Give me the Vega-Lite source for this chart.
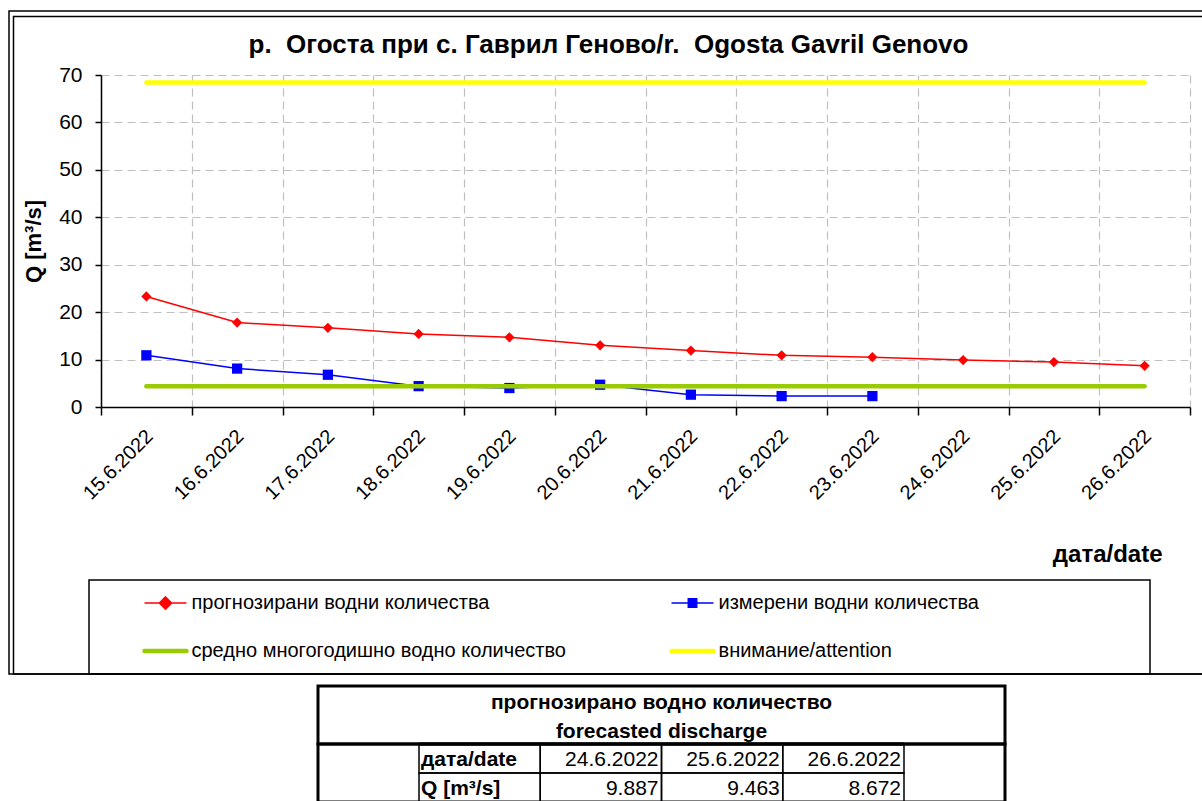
{
  "$schema": "https://vega.github.io/schema/vega-lite/v6.json",
  "padding": {"left": 8, "top": 10, "right": 0, "bottom": 0},
  "background": "white",
  "config": {
    "font": "Liberation Sans",
    "view": {"stroke": null},
    "axis": {"labelFont": "Liberation Sans", "titleFont": "Liberation Sans", "labelColor": "black", "titleColor": "black", "domainColor": "black", "tickColor": "black", "domainWidth": 1.5, "tickWidth": 1.5, "gridColor": "#c0c0c0", "gridDash": [8, 5], "gridWidth": 1.2},
    "text": {"font": "Liberation Sans", "color": "black"}
  },
  "datasets": {
    "main": [
      {"date": "15.6.2022", "s": "прогнозирани водни количества", "q": 23.3},
      {"date": "16.6.2022", "s": "прогнозирани водни количества", "q": 17.8},
      {"date": "17.6.2022", "s": "прогнозирани водни количества", "q": 16.7},
      {"date": "18.6.2022", "s": "прогнозирани водни количества", "q": 15.4},
      {"date": "19.6.2022", "s": "прогнозирани водни количества", "q": 14.7},
      {"date": "20.6.2022", "s": "прогнозирани водни количества", "q": 13.0},
      {"date": "21.6.2022", "s": "прогнозирани водни количества", "q": 11.9},
      {"date": "22.6.2022", "s": "прогнозирани водни количества", "q": 10.9},
      {"date": "23.6.2022", "s": "прогнозирани водни количества", "q": 10.5},
      {"date": "24.6.2022", "s": "прогнозирани водни количества", "q": 9.887},
      {"date": "25.6.2022", "s": "прогнозирани водни количества", "q": 9.463},
      {"date": "26.6.2022", "s": "прогнозирани водни количества", "q": 8.672},
      {"date": "15.6.2022", "s": "измерени водни количества", "q": 10.9},
      {"date": "16.6.2022", "s": "измерени водни количества", "q": 8.1},
      {"date": "17.6.2022", "s": "измерени водни количества", "q": 6.8},
      {"date": "18.6.2022", "s": "измерени водни количества", "q": 4.4},
      {"date": "19.6.2022", "s": "измерени водни количества", "q": 4.0},
      {"date": "20.6.2022", "s": "измерени водни количества", "q": 4.7},
      {"date": "21.6.2022", "s": "измерени водни количества", "q": 2.6},
      {"date": "22.6.2022", "s": "измерени водни количества", "q": 2.3},
      {"date": "23.6.2022", "s": "измерени водни количества", "q": 2.3},
      {"date": "15.6.2022", "s": "средно многогодишно водно количество", "q": 4.4},
      {"date": "16.6.2022", "s": "средно многогодишно водно количество", "q": 4.4},
      {"date": "17.6.2022", "s": "средно многогодишно водно количество", "q": 4.4},
      {"date": "18.6.2022", "s": "средно многогодишно водно количество", "q": 4.4},
      {"date": "19.6.2022", "s": "средно многогодишно водно количество", "q": 4.4},
      {"date": "20.6.2022", "s": "средно многогодишно водно количество", "q": 4.4},
      {"date": "21.6.2022", "s": "средно многогодишно водно количество", "q": 4.4},
      {"date": "22.6.2022", "s": "средно многогодишно водно количество", "q": 4.4},
      {"date": "23.6.2022", "s": "средно многогодишно водно количество", "q": 4.4},
      {"date": "24.6.2022", "s": "средно многогодишно водно количество", "q": 4.4},
      {"date": "25.6.2022", "s": "средно многогодишно водно количество", "q": 4.4},
      {"date": "26.6.2022", "s": "средно многогодишно водно количество", "q": 4.4},
      {"date": "15.6.2022", "s": "внимание/attention", "q": 68.4},
      {"date": "16.6.2022", "s": "внимание/attention", "q": 68.4},
      {"date": "17.6.2022", "s": "внимание/attention", "q": 68.4},
      {"date": "18.6.2022", "s": "внимание/attention", "q": 68.4},
      {"date": "19.6.2022", "s": "внимание/attention", "q": 68.4},
      {"date": "20.6.2022", "s": "внимание/attention", "q": 68.4},
      {"date": "21.6.2022", "s": "внимание/attention", "q": 68.4},
      {"date": "22.6.2022", "s": "внимание/attention", "q": 68.4},
      {"date": "23.6.2022", "s": "внимание/attention", "q": 68.4},
      {"date": "24.6.2022", "s": "внимание/attention", "q": 68.4},
      {"date": "25.6.2022", "s": "внимание/attention", "q": 68.4},
      {"date": "26.6.2022", "s": "внимание/attention", "q": 68.4}
    ],
    "legend": [
      {"s": "прогнозирани водни количества", "col": 0, "row": 0},
      {"s": "измерени водни количества", "col": 1, "row": 0},
      {"s": "средно многогодишно водно количество", "col": 0, "row": 1},
      {"s": "внимание/attention", "col": 1, "row": 1}
    ],
    "table": [
      {"row": "date", "col": "label", "t": "дата/date"},
      {"row": "date", "col": "d1", "t": "24.6.2022"},
      {"row": "date", "col": "d2", "t": "25.6.2022"},
      {"row": "date", "col": "d3", "t": "26.6.2022"},
      {"row": "q", "col": "label", "t": "Q [m³/s]"},
      {"row": "q", "col": "d1", "t": "9.887"},
      {"row": "q", "col": "d2", "t": "9.463"},
      {"row": "q", "col": "d3", "t": "8.672"}
    ],
    "tabletitle": [
      {"n": 1, "line": "прогнозирано водно количество"},
      {"n": 2, "line": "forecasted discharge"}
    ]
  },
  "vconcat": [
    {
      "hconcat": [
        {
          "width": 12,
          "height": 1,
          "data": {"values": [{}]},
          "layer": [
            {
              "mark": {"type": "rect", "filled": false, "stroke": "black", "strokeWidth": 1.5},
              "encoding": {
                "x": {"datum": 0, "type": "quantitative", "scale": {"domain": [0, 1], "range": [-80, 1131]}, "axis": null},
                "x2": {"datum": 1},
                "y": {"datum": 0, "type": "quantitative", "scale": {"domain": [0, 1], "range": [599, -64]}, "axis": null},
                "y2": {"datum": 1}
              }
            },
            {
              "mark": {"type": "rect", "filled": false, "stroke": "black", "strokeWidth": 1.5},
              "encoding": {
                "x": {"datum": 0, "type": "quantitative", "scale": {"domain": [0, 1], "range": [-75.5, 1126]}, "axis": null},
                "x2": {"datum": 1},
                "y": {"datum": 0, "type": "quantitative", "scale": {"domain": [0, 1], "range": [599, -58.5]}, "axis": null},
                "y2": {"datum": 1}
              }
            }
          ],
          "resolve": {"scale": {"x": "independent", "y": "independent"}}
        },
        {
          "width": 1089,
          "height": 332,
          "title": {"text": "р.\u00a0 Огоста при с. Гаврил Геново/r.\u00a0 Ogosta Gavril Genovo", "font": "Liberation Sans", "fontSize": 26, "fontWeight": "bold", "color": "black", "anchor": "middle", "frame": "group", "dx": -37, "offset": 6},
          "layer": [
            {
              "data": {"name": "main"},
              "encoding": {
                "x": {"field": "date", "type": "ordinal", "sort": null, "scale": {"type": "band", "paddingInner": 0, "paddingOuter": 0},
                  "axis": {"title": "дата/date", "titleFontSize": 24, "titleFontWeight": "bold", "titleAnchor": "end", "titleAlign": "right", "titleX": 1061, "titleY": 154, "titleBaseline": "alphabetic", "tickBand": "extent", "grid": true, "labelAngle": -45, "labelAlign": "right", "labelBaseline": "middle", "labelFontSize": 20, "labelPadding": 18, "labelOffset": 3, "tickSize": 8}},
                "y": {"field": "q", "type": "quantitative", "scale": {"domain": [0, 70], "nice": false},
                  "axis": {"values": [0, 10, 20, 30, 40, 50, 60, 70], "title": "Q [m³/s]", "titleFontSize": 22, "titleFontWeight": "bold", "titlePadding": 13, "labelFontSize": 21, "labelPadding": 13, "tickSize": 6, "grid": true}},
                "color": {"field": "s", "type": "nominal", "scale": {"domain": ["прогнозирани водни количества", "измерени водни количества", "средно многогодишно водно количество", "внимание/attention"], "range": ["#ff0000", "#0000ff", "#99cc00", "#ffff00"]}, "legend": null}
              },
              "layer": [
                {"transform": [{"filter": {"field": "s", "oneOf": ["прогнозирани водни количества", "измерени водни количества"]}}],
                 "mark": {"type": "line", "strokeWidth": 1.5}},
                {"transform": [{"filter": {"field": "s", "oneOf": ["прогнозирани водни количества", "измерени водни количества"]}}],
                 "mark": {"type": "point", "filled": true, "opacity": 1, "size": 105},
                 "encoding": {"shape": {"field": "s", "type": "nominal", "scale": {"domain": ["прогнозирани водни количества", "измерени водни количества"], "range": ["diamond", "square"]}, "legend": null}}},
                {"transform": [{"filter": {"field": "s", "oneOf": ["средно многогодишно водно количество", "внимание/attention"]}}],
                 "mark": {"type": "line", "strokeWidth": 4.5, "strokeCap": "round"}}
              ]
            },
            {
              "data": {"values": [{}]},
              "mark": {"type": "rect", "filled": false, "stroke": "black", "strokeWidth": 1.5},
              "encoding": {
                "x": {"datum": 0, "type": "quantitative", "scale": {"domain": [0, 1], "range": [-12, 1049]}, "axis": null},
                "x2": {"datum": 1},
                "y": {"datum": 0, "type": "quantitative", "scale": {"domain": [0, 1], "range": [599, 505]}, "axis": null},
                "y2": {"datum": 1}
              }
            },
            {
              "data": {"name": "legend"},
              "encoding": {
                "x": {"field": "col", "type": "quantitative", "scale": {"domain": [0, 1], "range": [64.5, 591.5]}, "axis": null},
                "y": {"field": "row", "type": "quantitative", "scale": {"domain": [0, 1], "range": [528, 576]}, "axis": null},
                "fill": {"field": "s", "type": "nominal", "scale": {"domain": ["прогнозирани водни количества", "измерени водни количества", "средно многогодишно водно количество", "внимание/attention"], "range": ["#ff0000", "#0000ff", "#99cc00", "#ffff00"]}, "legend": null},
                "stroke": {"field": "s", "type": "nominal", "scale": {"domain": ["прогнозирани водни количества", "измерени водни количества", "средно многогодишно водно количество", "внимание/attention"], "range": ["#ff0000", "#0000ff", "#99cc00", "#ffff00"]}, "legend": null},
                "shape": {"field": "s", "type": "nominal", "scale": {"domain": ["прогнозирани водни количества", "измерени водни количества", "средно многогодишно водно количество", "внимание/attention"], "range": ["M-1,0L1,0M0,-0.29L0.29,0L0,0.29L-0.29,0Z", "M-1,0L1,0M-0.2,-0.2L0.2,-0.2L0.2,0.2L-0.2,0.2Z", "M-1,0L1,0", "M-1,0L1,0"]}, "legend": null}
              },
              "layer": [
                {"transform": [{"filter": "datum.row === 0"}],
                 "mark": {"type": "point", "filled": true, "opacity": 1, "size": 1764, "strokeWidth": 1.5}},
                {"transform": [{"filter": "datum.row === 1"}],
                 "mark": {"type": "point", "filled": true, "opacity": 1, "size": 1764, "strokeWidth": 4.5, "strokeCap": "round"}},
                {"mark": {"type": "text", "align": "left", "baseline": "middle", "dx": 26, "fontSize": 20, "font": "Liberation Sans", "fill": "black", "stroke": null},
                 "encoding": {"text": {"field": "s"}, "fill": {"value": "black"}, "stroke": {"value": null}, "shape": {"value": null}}}
              ]
            }
          ],
          "resolve": {"scale": {"x": "independent", "y": "independent", "shape": "independent", "color": "independent", "fill": "independent", "stroke": "independent"}}
        }
      ],
      "spacing": 0,
      "bounds": "flush"
    },
    {
      "hconcat": [
        {"width": 229, "height": 1, "data": {"values": []}, "mark": {"type": "point", "opacity": 0}, "encoding": {}},
        {
          "vconcat": [
            {
              "width": 687,
              "height": 58,
              "view": {"stroke": "black", "strokeWidth": 3},
              "data": {"name": "tabletitle"},
              "mark": {"type": "text", "font": "Liberation Sans", "fontWeight": "bold", "fontSize": 21, "baseline": "middle", "dy": 2},
              "encoding": {
                "y": {"field": "n", "type": "ordinal", "axis": null},
                "text": {"field": "line"}
              }
            },
            {
              "width": 687,
              "height": 58,
              "view": {"stroke": "black", "strokeWidth": 3},
              "data": {"name": "table"},
              "encoding": {
                "x": {"field": "col", "type": "nominal", "sort": null, "scale": {"type": "band", "domain": ["label", "d1", "d2", "d3"], "paddingInner": 0, "paddingOuter": 0.833}, "axis": null},
                "y": {"field": "row", "type": "nominal", "sort": null, "scale": {"domain": ["date", "q"], "paddingInner": 0, "paddingOuter": 0}, "axis": null}
              },
              "layer": [
                {"mark": {"type": "rect", "filled": false, "stroke": "black", "strokeWidth": 1.5}},
                {"transform": [{"filter": "datum.col === 'label'"}],
                 "mark": {"type": "text", "align": "left", "baseline": "middle", "dx": 2, "dy": 1, "fontSize": 21, "fontWeight": "bold"},
                 "encoding": {"x": {"field": "col", "type": "nominal", "bandPosition": 0}, "text": {"field": "t"}}},
                {"transform": [{"filter": "datum.col !== 'label'"}],
                 "mark": {"type": "text", "align": "right", "baseline": "middle", "dx": -3, "dy": 1, "fontSize": 21},
                 "encoding": {"x": {"field": "col", "type": "nominal", "bandPosition": 1}, "text": {"field": "t"}}},
                {"data": {"values": [{}]}, "mark": {"type": "rule", "strokeWidth": 3, "color": "black"},
                 "encoding": {"x": {"datum": "label", "bandPosition": 0}}},
                {"data": {"values": [{}]}, "mark": {"type": "rule", "strokeWidth": 3, "color": "black"},
                 "encoding": {"x": {"datum": "d3", "bandPosition": 1}}}
              ]
            }
          ],
          "spacing": 0,
          "bounds": "flush"
        }
      ],
      "spacing": 0,
      "bounds": "flush"
    }
  ],
  "spacing": 9,
  "bounds": "full"
}
